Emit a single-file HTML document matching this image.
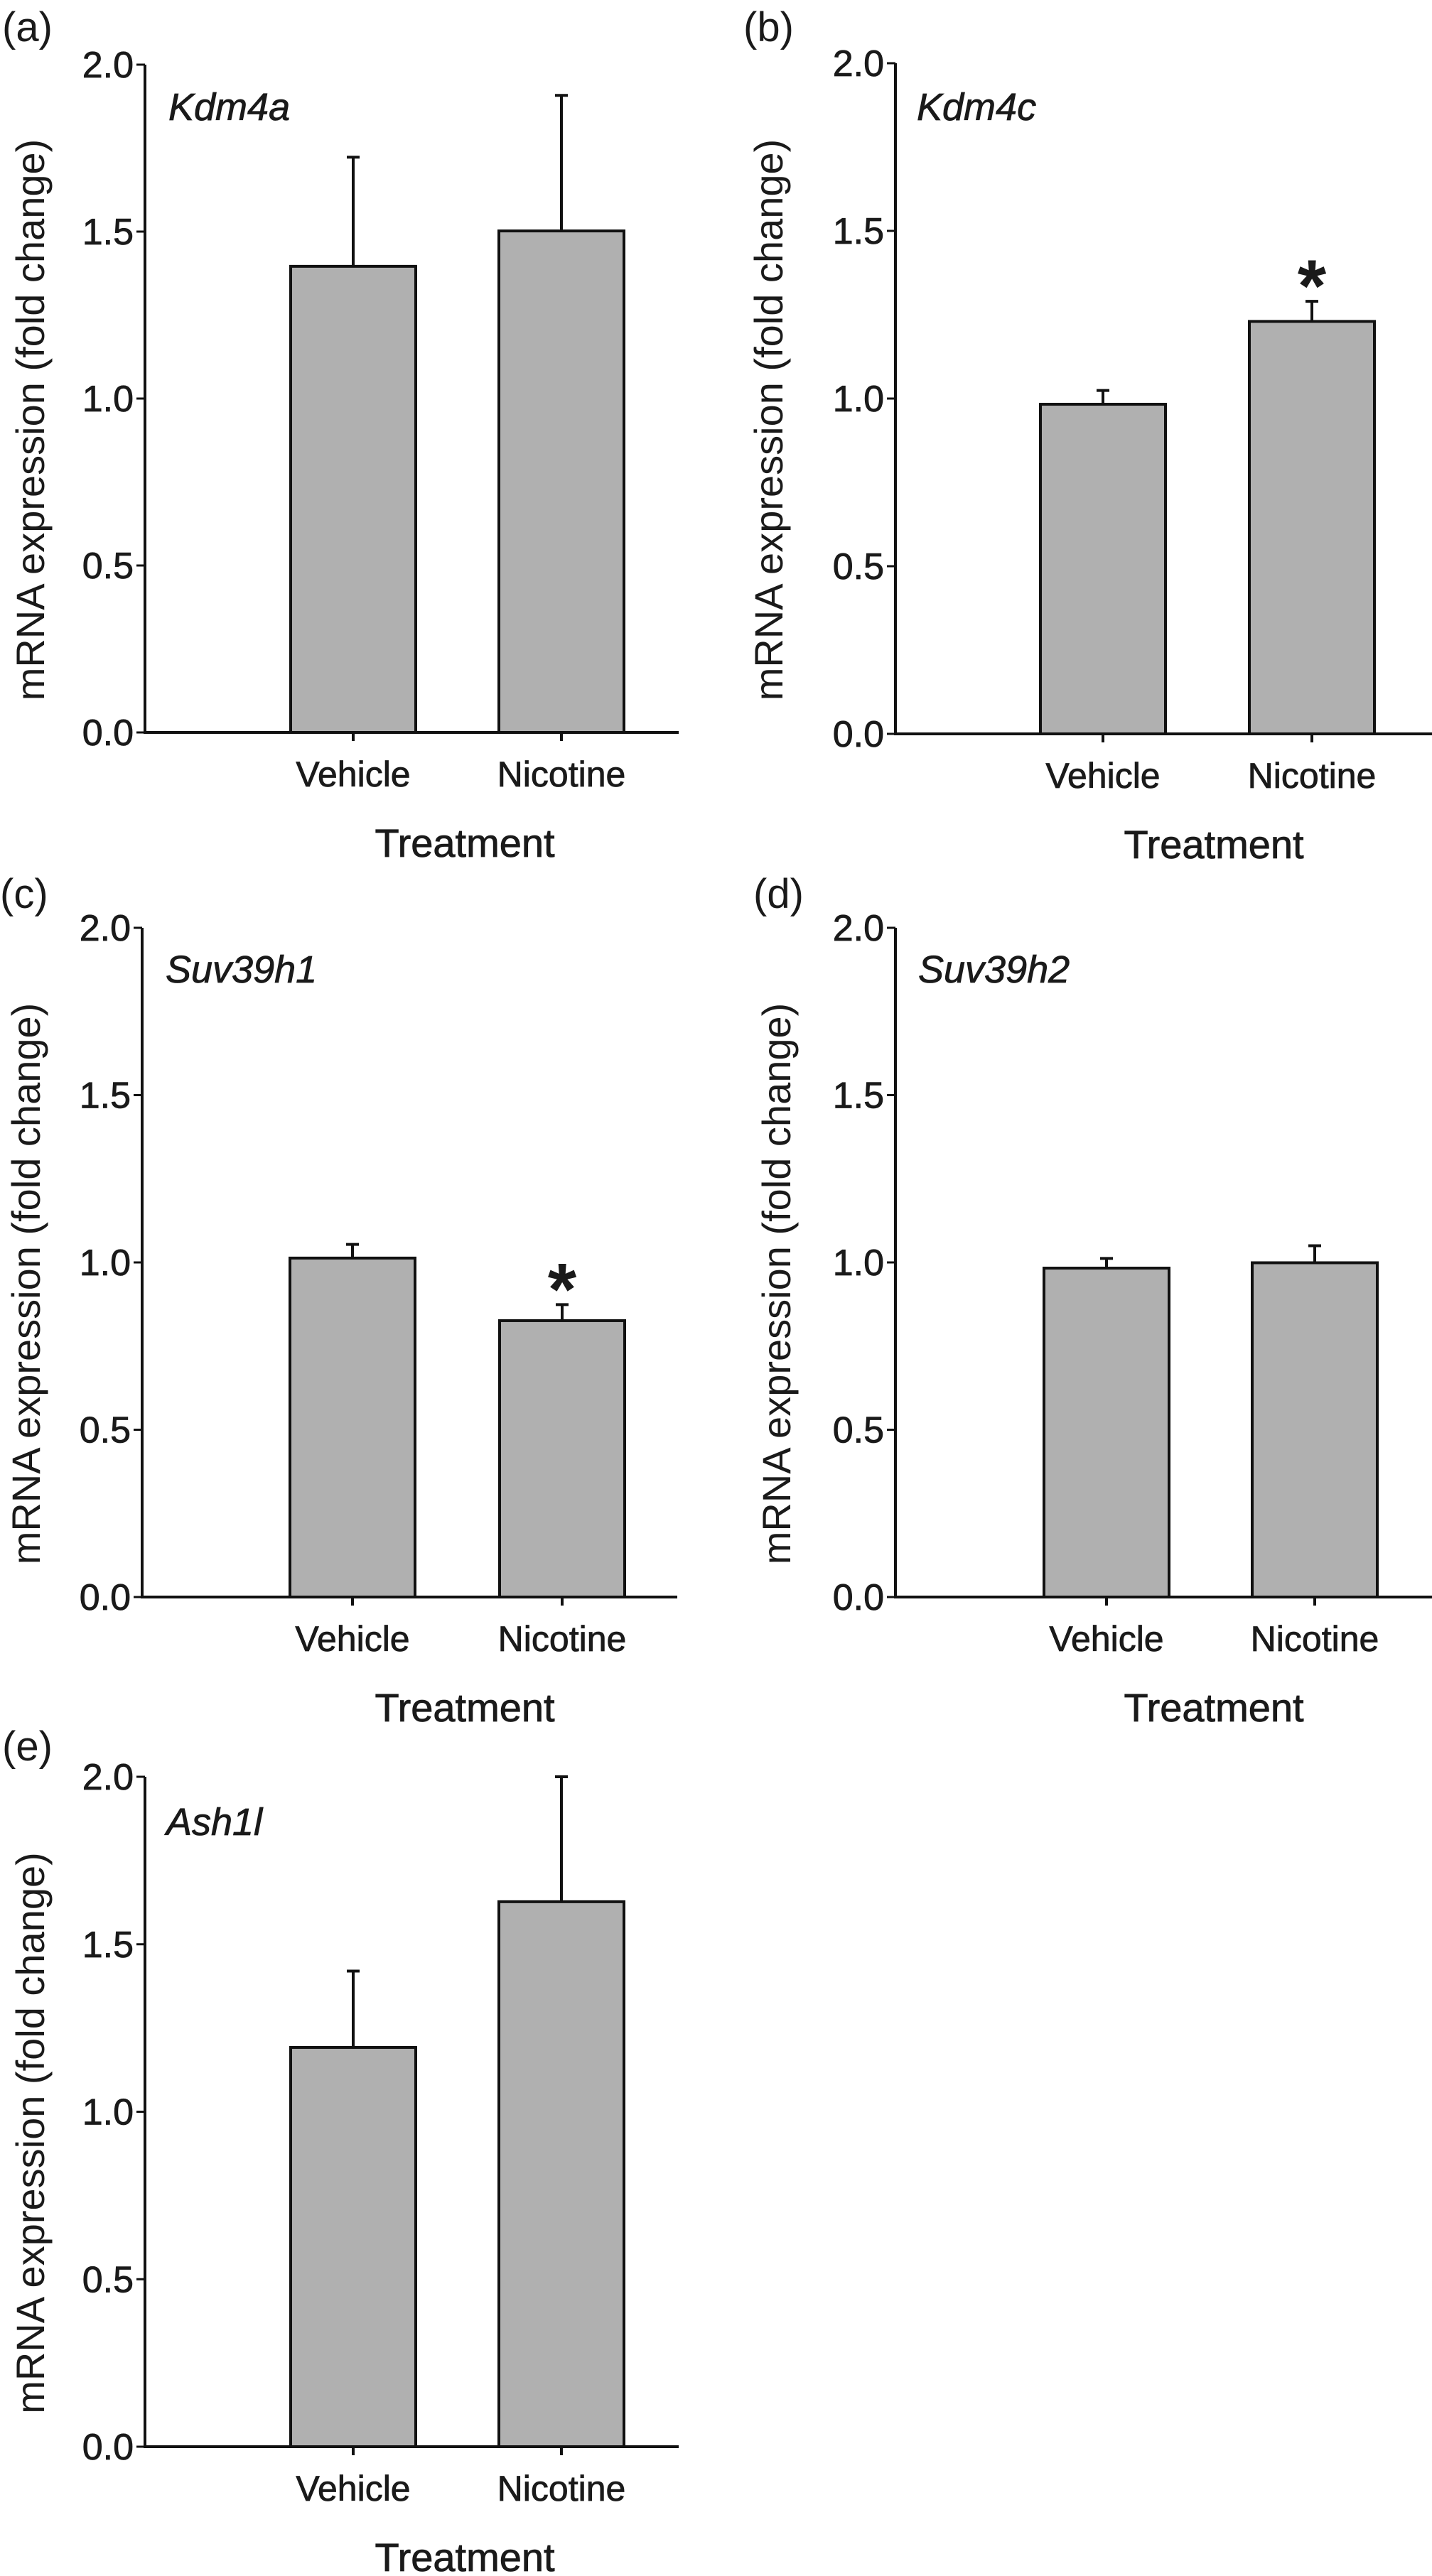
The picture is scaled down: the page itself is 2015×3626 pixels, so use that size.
<!DOCTYPE html>
<html><head><meta charset="utf-8"><style>
html,body{margin:0;padding:0;background:#fff;}
svg{display:block;}
text{font-family:"Liberation Sans",sans-serif;fill:#1a1a1a;}
.st{stroke:#1a1a1a;stroke-width:0.8px;}
</style></head><body>
<svg id="fig" width="2015" height="3626" viewBox="0 0 2015 3626" xmlns="http://www.w3.org/2000/svg"></svg>
<script>
const categories = ["Vehicle", "Nicotine"];
const yTicks = [0, 0.5, 1.0, 1.5, 2.0];
const yTickLabels = ["0.0", "0.5", "1.0", "1.5", "2.0"];
const panelLetters = ["(a)", "(b)", "(c)", "(d)", "(e)"];
const geneNames = ["Kdm4a", "Kdm4c", "Suv39h1", "Suv39h2", "Ash1l"];
const meansA = [1.396, 1.502];
const errA = [0.327, 0.406];
const meansB = [0.983, 1.23];
const errB = [0.041, 0.06];
const meansC = [1.013, 0.826];
const errC = [0.041, 0.048];
const meansD = [0.983, 0.999];
const errD = [0.029, 0.051];
const meansE = [1.192, 1.627];
const errE = [0.228, 0.373];
const sigA = [false, false];
const sigB = [false, true];
const sigC = [false, true];
const sigD = [false, false];
const sigE = [false, false];

const NS = "http://www.w3.org/2000/svg";
const fig = document.getElementById("fig");
function mk(tag, attrs, parent) {
  const e = document.createElementNS(NS, tag);
  for (const k in attrs) e.setAttribute(k, attrs[k]);
  (parent || fig).appendChild(e);
  return e;
}

const layouts = [
  {ax:204, y0:1031, y2:91, xEnd:955, c:[497,790], bw:176, lx:3, ly:58, gx:237, gy:169, tx:42, trx:654},
  {ax:1260, y0:1033, y2:89, xEnd:2015, c:[1552,1846], bw:176, lx:1046, ly:58, gx:1290, gy:169, tx:1081, trx:1708},
  {ax:200, y0:2248, y2:1306, xEnd:953, c:[496,791], bw:176, lx:0, ly:1278, gx:233, gy:1383, tx:36, trx:654},
  {ax:1260, y0:2248, y2:1306, xEnd:2015, c:[1557,1850], bw:176, lx:1060, ly:1278, gx:1292, gy:1383, tx:1092, trx:1708},
  {ax:204, y0:3444, y2:2501, xEnd:955, c:[497,790], bw:176, lx:3, ly:2478, gx:234, gy:2583, tx:42, trx:654}
];
const means = [meansA, meansB, meansC, meansD, meansE];
const errs = [errA, errB, errC, errD, errE];
const sigs = [sigA, sigB, sigC, sigD, sigE];

layouts.forEach((L, p) => {
  const g = mk("g", {});
  
  
  const yS = v => L.y0 - (L.y0 - L.y2) * v / 2;

  const lab = mk("text", {x:L.lx, y:L.ly, "font-size":58}, g);
  lab.textContent = panelLetters[p];
  
  

  const gn = mk("text", {x:L.gx, y:L.gy, "font-size":54, "font-style":"italic", class:"st"}, g);
  gn.textContent = geneNames[p];
  
  

  categories.forEach((c, i) => {
    const x = L.c[i];
    const top = yS(means[p][i]);
    const bar = mk("rect", {x:x - L.bw/2, y:top, width:L.bw, height:L.y0 - top, fill:"#b0b0b0", stroke:"#111", "stroke-width":4}, g);
    
    
    const et = yS(means[p][i] + errs[p][i]);
    const eb = mk("path", {d:`M${x},${top} V${et} M${x-9},${et} H${x+9}`, stroke:"#111", "stroke-width":4, fill:"none"}, g);
    
    
    if (sigs[p][i]) {
      const st = mk("text", {x:x, y:et + 14, "font-size":104, "font-weight":"bold", "text-anchor":"middle"}, g);
      st.textContent = "*";
      
      
    }
  });

  const ya = mk("line", {x1:L.ax, y1:L.y2, x2:L.ax, y2:L.y0, stroke:"#111", "stroke-width":4}, g);
  
  
  const xa = mk("line", {x1:L.ax - 2, y1:L.y0, x2:L.xEnd, y2:L.y0, stroke:"#111", "stroke-width":4}, g);
  
  

  yTicks.forEach((v, i) => {
    const y = yS(v);
    mk("line", {x1:L.ax - 12, y1:y, x2:L.ax, y2:y, stroke:"#111", "stroke-width":3}, g);
    const t = mk("text", {x:L.ax - 16, y:y + 18, "font-size":52, "text-anchor":"end", class:"st"}, g);
    t.textContent = yTickLabels[i];
    
    
  });
  categories.forEach((c, i) => {
    const x = L.c[i];
    mk("line", {x1:x, y1:L.y0, x2:x, y2:L.y0 + 12, stroke:"#111", "stroke-width":4}, g);
    const t = mk("text", {x:x, y:L.y0 + 76, "font-size":50, "text-anchor":"middle", class:"st"}, g);
    t.textContent = c;
    
    
  });

  const xt = mk("text", {x:L.trx, y:L.y0 + 175, "font-size":56, "text-anchor":"middle", class:"st"}, g);
  xt.textContent = "Treatment";
  
  

  const cy = (L.y0 + L.y2) / 2 + 30;
  const yt = mk("text", {x:0, y:0, "font-size":56, "text-anchor":"middle", transform:`translate(${L.tx + 20},${cy}) rotate(-90)`}, g);
  yt.textContent = "mRNA expression (fold change)";
  
  
});
</script>
</body></html>
